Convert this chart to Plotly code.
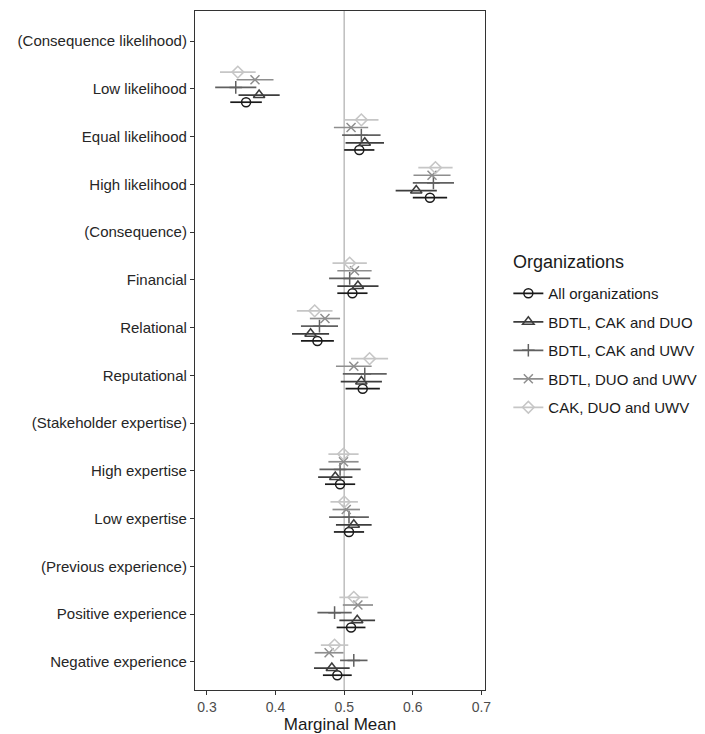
import plotly.graph_objects as go

categories = ["(Consequence likelihood)", "Low likelihood", "Equal likelihood", "High likelihood",
              "(Consequence)", "Financial", "Relational", "Reputational",
              "(Stakeholder expertise)", "High expertise", "Low expertise",
              "(Previous experience)", "Positive experience", "Negative experience"]

series_names = ["All organizations", "BDTL, CAK and DUO", "BDTL, CAK and UWV",
                "BDTL, DUO and UWV", "CAK, DUO and UWV"]

# estimates (None for header rows)
mean_all  = [None, 0.357, 0.522, 0.625, None, 0.512, 0.461, 0.527, None, 0.494, 0.507, None, 0.510, 0.490]
mean_bcd  = [None, 0.376, 0.530, 0.605, None, 0.520, 0.451, 0.525, None, 0.487, 0.514, None, 0.519, 0.482]
mean_bcu  = [None, 0.342, 0.525, 0.630, None, 0.508, 0.464, 0.530, None, 0.494, 0.507, None, 0.486, 0.514]
mean_bdu  = [None, 0.370, 0.510, 0.628, None, 0.515, 0.472, 0.514, None, 0.499, 0.503, None, 0.520, 0.478]
mean_cdu  = [None, 0.345, 0.525, 0.633, None, 0.508, 0.457, 0.537, None, 0.499, 0.500, None, 0.514, 0.486]

hw_all = [None, 0.023, 0.022, 0.025, None, 0.022, 0.024, 0.025, None, 0.022, 0.022, None, 0.021, 0.021]
hw_bcd = [None, 0.030, 0.028, 0.030, None, 0.030, 0.027, 0.030, None, 0.025, 0.026, None, 0.026, 0.026]
hw_bcu = [None, 0.030, 0.028, 0.030, None, 0.030, 0.027, 0.032, None, 0.030, 0.029, None, 0.025, 0.020]
hw_bdu = [None, 0.027, 0.025, 0.027, None, 0.025, 0.022, 0.026, None, 0.022, 0.020, None, 0.022, 0.021]
hw_cdu = [None, 0.026, 0.025, 0.025, None, 0.025, 0.026, 0.027, None, 0.022, 0.020, None, 0.021, 0.020]

x_ticks = [0.3, 0.4, 0.5, 0.6, 0.7]

means = [mean_all, mean_bcd, mean_bcu, mean_bdu, mean_cdu]
hws = [hw_all, hw_bcd, hw_bcu, hw_bdu, hw_cdu]
colors = ["#1a1a1a", "#3d3d3d", "#606060", "#8e8e8e", "#c6c6c6"]
symbols = ["circle-open", "triangle-up-open", "cross-thin-open", "x-thin-open", "diamond-open"]
msizes = [9, 10, 9, 9, 9]
offsets = [0.28, 0.13, -0.03, -0.19, -0.35]

fig = go.Figure()
ypos = list(range(len(categories)))
for i in range(5):
    ys = [p + offsets[i] for p in ypos]
    fig.add_trace(go.Scatter(
        x=means[i], y=ys, mode="markers", showlegend=False,
        marker=dict(symbol=symbols[i], size=msizes[i], color=colors[i],
                    line=dict(color=colors[i], width=1.5)),
        error_x=dict(type="data", array=hws[i], width=0, thickness=1.7, color=colors[i]),
    ))
for i in range(5):
    fig.add_trace(go.Scatter(
        x=[None], y=[None], mode="lines+markers", name=series_names[i],
        legendgroup=str(i),
        marker=dict(symbol=symbols[i], size=msizes[i], color=colors[i],
                    line=dict(color=colors[i], width=1.5)),
        line=dict(color=colors[i], width=1.7),
    ))

fig.add_shape(type="line", x0=0.5, x1=0.5, y0=0, y1=1, xref="x", yref="paper",
              line=dict(color="#bdbdbd", width=1.5), layer="below")

fig.add_annotation(text="Organizations", xref="paper", yref="paper",
                   x=1.09, y=0.6303, xanchor="left", yanchor="middle", showarrow=False,
                   font=dict(size=18, color="#1a1a1a"))

# page body has an 8px margin, so the figure is 8px smaller than the window
fig.update_layout(
    width=697, height=726,
    margin=dict(l=187, r=212, t=3, b=44),
    plot_bgcolor="white", paper_bgcolor="white",
    font=dict(family="Liberation Sans, Arial, sans-serif", color="#1a1a1a"),
    legend=dict(x=1.0805, y=0.6082, xanchor="left", yanchor="top",
                font=dict(size=15, color="#1a1a1a"), tracegroupgap=6,
                bgcolor="rgba(0,0,0,0)"),
)
fig.update_xaxes(range=[0.2826, 0.7052], tickvals=x_ticks, ticktext=[str(t) for t in x_ticks],
                 showgrid=False, zeroline=False, showline=True, mirror=True, automargin=False,
                 linecolor="#333333", linewidth=1.2, ticks="outside", ticklen=4,
                 tickcolor="#333333", tickfont=dict(size=14, color="#4d4d4d"),
                 title=dict(text="Marginal Mean", font=dict(size=17, color="#1a1a1a"), standoff=4))
fig.update_yaxes(range=[13.59, -0.63], tickvals=ypos, ticktext=categories,
                 showgrid=False, zeroline=False, showline=True, mirror=True, automargin=False,
                 linecolor="#333333", linewidth=1.2, ticks="outside", ticklen=4,
                 tickcolor="#333333", tickfont=dict(size=15, color="#262626"))

fig.write_html("out.html")
